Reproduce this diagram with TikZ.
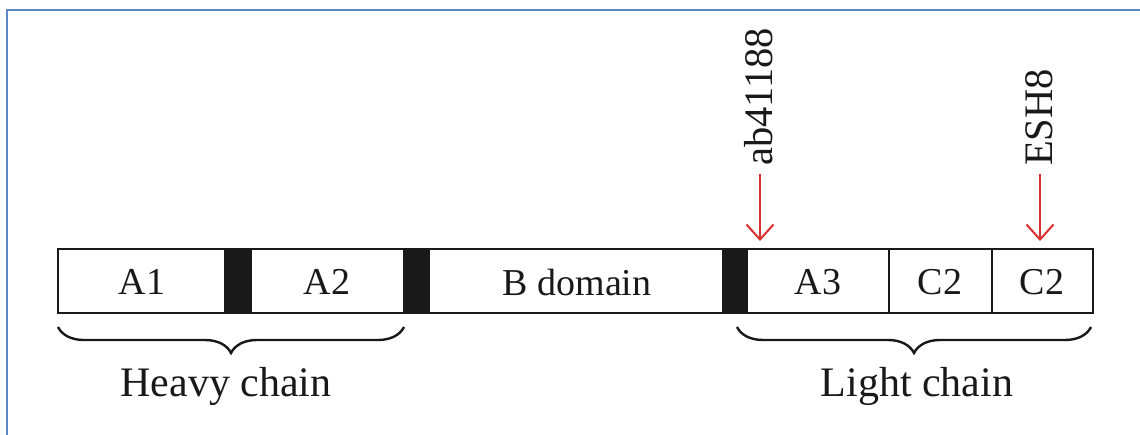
\documentclass[tikz,border=0pt]{standalone}
\usepackage{fontspec}
\setmainfont{Liberation Serif}
\usetikzlibrary{arrows.meta,decorations.pathreplacing}
\definecolor{framebl}{RGB}{91,137,200}
\definecolor{arrred}{RGB}{218,45,50}
\definecolor{inkc}{RGB}{25,25,25}
\tikzset{
  barline/.style={draw=inkc,line width=2.6pt},
  blk/.style={fill=inkc,draw=none},
  lbl/.style={font=\fontsize{38}{40}\selectfont,text=inkc,inner sep=0pt},
  chainlbl/.style={font=\fontsize{42}{44}\selectfont,text=inkc,inner sep=0pt},
  vlbl/.style={font=\fontsize{40.5}{42}\selectfont,text=inkc,inner sep=0pt,rotate=90,anchor=base west},
  cutarrow/.style={draw=arrred,line width=2pt,-{Straight Barb[length=15pt,width=27pt,line width=2pt]}},
  bracestyle/.style={draw=inkc,line width=2.4pt,decorate,decoration={brace,mirror,amplitude=26pt}}
}
\begin{document}
\begin{tikzpicture}[x=1pt,y=-1pt]
\useasboundingbox (0,0) rectangle (1140,434);
% frame
\draw[framebl,line width=2.6pt] (7,440) -- (7,10) -- (1146,10);
% black linker blocks
\fill[blk] (224,249) rectangle (252,313);
\fill[blk] (403,249) rectangle (430,313);
\fill[blk] (722,249) rectangle (748,313);
% outer bar and dividers
\draw[barline] (58,249) rectangle (1093,313);
\draw[barline] (889,249) -- (889,313);
\draw[barline] (992,249) -- (992,313);
% domain labels
\node[lbl] (a1) at (142,282) {A1};
\node[lbl] (a2) at (327,282) {A2};
\node[lbl] (bd) at (577,282) {B domain};
\node[lbl] (a3) at (818,282) {A3};
\node[lbl] (c2a) at (940,282) {C2};
\node[lbl] (c2b) at (1042,282) {C2};
% antibody labels and arrows
\node[vlbl] (ab) at (772,166) {ab41188};
\node[vlbl] (esh) at (1052,166) {ESH8};
\coordinate (abs) at (760,174);
\coordinate (abe) at (760,241);
\coordinate (eshs) at (1040,174);
\coordinate (eshe) at (1040,241);
\draw[cutarrow] (abs) -- (abe);
\draw[cutarrow] (eshs) -- (eshe);
% braces
\coordinate (hb1) at (58,327);
\coordinate (hb2) at (404,327);
\coordinate (lb1) at (737,327);
\coordinate (lb2) at (1091,327);
\draw[bracestyle] (hb1) -- (hb2);
\draw[bracestyle] (lb1) -- (lb2);
\node[chainlbl] (heavy) at (226,386) {Heavy chain};
\node[chainlbl] (light) at (917,386) {Light chain};
\end{tikzpicture}
\end{document}
